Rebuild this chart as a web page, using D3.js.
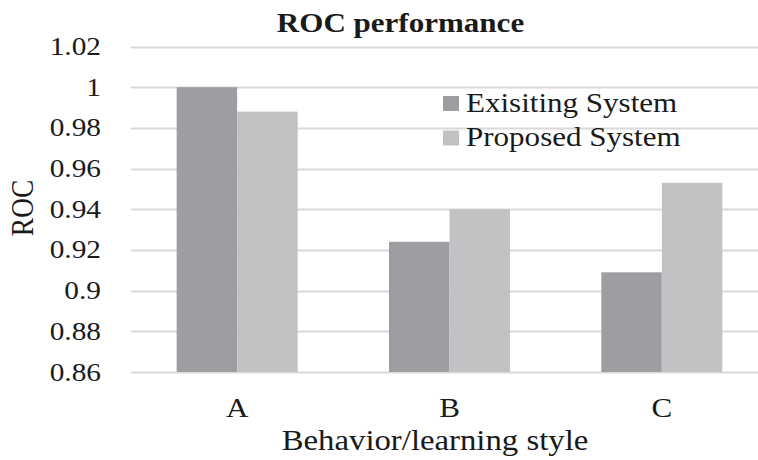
<!DOCTYPE html>
<html>
<head>
<meta charset="utf-8">
<title>ROC performance</title>
<style>
  body { margin: 0; background: #fff; }
  svg text { font-family: "Liberation Serif", "Times New Roman", serif; fill: #1a1a1a; }
</style>
</head>
<body>
<svg width="758" height="460"></svg>
<script src="https://d3js.org/d3.v7.min.js"></script>
<script>
// data
var categories = ["A", "B", "C"];
var seriesNames = ["Exisiting System", "Proposed System"];
var existing = [1.0, 0.924, 0.909];
var proposed = [0.988, 0.940, 0.953];
var tickValues = [0.86, 0.88, 0.9, 0.92, 0.94, 0.96, 0.98, 1.0, 1.02];
var tickLabels = ["0.86", "0.88", "0.9", "0.92", "0.94", "0.96", "0.98", "1", "1.02"];

var colors = ["#9d9ea2", "#c1c2c4"];
var sx = 1.15; // the source picture is stretched horizontally

var svg = d3.select("svg");
var plotLeft = 131, plotRight = 768, plotTop = 46.5, plotBottom = 372;

var x = d3.scaleBand().domain(categories).range([plotLeft, plotRight])
    .paddingInner(0.43).paddingOuter(0.215);
var x1 = d3.scaleBand().domain(seriesNames).range([0, x.bandwidth()]);
var y = d3.scaleLinear().domain([0.86, 1.02]).range([plotBottom, plotTop]);
var z = d3.scaleOrdinal().domain(seriesNames).range(colors);

// helper for stretched text
function stext(g, px, py, str, anchor) {
  return g.append("text")
    .attr("transform", "translate(" + px + "," + py + ") scale(" + sx + ",1)")
    .attr("text-anchor", anchor || "middle")
    .text(str);
}

// gridlines
svg.append("g").selectAll("line")
  .data(tickValues)
  .enter().append("line")
    .attr("x1", plotLeft).attr("x2", 758)
    .attr("y1", function(d) { return Math.round(y(d)) + 0.5; })
    .attr("y2", function(d) { return Math.round(y(d)) + 0.5; })
    .attr("stroke", "#d9d9d9")
    .attr("stroke-width", 2);

// y tick labels
var yl = svg.append("g").attr("font-size", 25.5);
tickValues.forEach(function(v, i) {
  stext(yl, 101, y(v) + 8.5, tickLabels[i], "end");
});

// bars
var rows = categories.map(function(c, i) {
  return { cat: c, vals: [existing[i], proposed[i]] };
});
svg.append("g").selectAll("g")
  .data(rows)
  .enter().append("g")
    .attr("transform", function(d) { return "translate(" + x(d.cat) + ",0)"; })
  .selectAll("rect")
  .data(function(d) { return d.vals.map(function(v, j) { return { key: seriesNames[j], value: v }; }); })
  .enter().append("rect")
    .attr("x", function(d) { return x1(d.key); })
    .attr("y", function(d) { return y(d.value); })
    .attr("width", x1.bandwidth())
    .attr("height", function(d) { return y(0.86) - y(d.value); })
    .attr("fill", function(d) { return z(d.key); });

// category labels
var xl = svg.append("g").attr("font-size", 27);
categories.forEach(function(c) {
  stext(xl, x(c) + x.bandwidth() / 2, 416.5, c);
});

// axis titles
var at = svg.append("g").attr("font-size", 28.5);
stext(at, 435, 450, "Behavior/learning style");
at.append("text")
  .attr("transform", "translate(33,208) scale(" + sx + ",1) rotate(-90)")
  .attr("text-anchor", "middle")
  .attr("font-size", 27.5)
  .text("ROC");

// chart title
svg.append("g").attr("font-size", 27).attr("font-weight", "bold")
  .call(function(g) { stext(g, 400.5, 32, "ROC performance"); });

// legend
var legend = svg.append("g").attr("font-size", 27)
  .selectAll("g")
  .data(seriesNames)
  .enter().append("g")
    .attr("transform", function(d, i) { return "translate(443," + (96 + i * 34.5) + ")"; });

legend.append("rect")
  .attr("width", 16).attr("height", 15)
  .attr("fill", function(d) { return z(d); });

legend.each(function(d) {
  stext(d3.select(this), 23, 15.5, d, "start");
});
</script>
</body>
</html>
